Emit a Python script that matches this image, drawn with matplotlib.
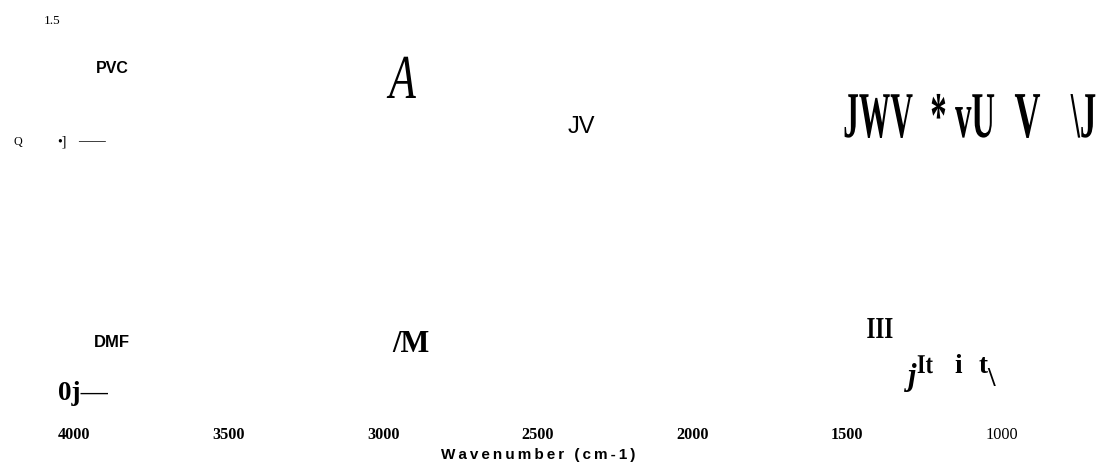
import matplotlib
matplotlib.use('Agg')
import matplotlib.pyplot as plt
from matplotlib import patheffects
from matplotlib.transforms import Affine2D

W, H = 1103, 469

tick_values = [4000, 3500, 3000, 2500, 2000, 1500, 1000]
tick_labels = ['4000', '3500', '3000', '2500', '2000', '1500', '1000']
x_title = 'Wavenumber (cm-1)'
samples = ['PVC', 'DMF']
y_labels = ['1.5', 'Q', '\u2022]', '\u2014\u2014', '0j\u2014']
# band labels, as they came out of the scanned figure
bands_top = ['A', 'JV', 'JWV', '*', 'vU', 'V', '\\J']
bands_bottom = ['/M', 'III', 'j', 'It', 'i', 't', '\\']


class Tall(patheffects.AbstractPathEffect):
    """Stretch the glyphs upward from the baseline at display y = base."""
    def __init__(self, base, sy):
        super().__init__()
        self.base, self.sy = base, sy

    def draw_path(self, renderer, gc, tpath, affine, rgbFace=None):
        st = Affine2D().translate(0, -self.base).scale(1, self.sy).translate(0, self.base)
        renderer.draw_path(gc, tpath, affine + st, rgbFace)


fig = plt.figure(figsize=(W / 100, H / 100), dpi=100)

# the wavenumber axis
ax = fig.add_axes([74 / W, (H - 420) / H, 928 / W, 410 / H], facecolor='none')
ax.set_xlim(4000, 1000)
ax.set_ylim(0, 1.5)
ax.set_xticks(tick_values, labels=tick_labels, family='Liberation Serif',
              fontweight='bold', fontsize=11.7)
ax.get_xticklabels()[-1].set_fontweight('normal')
ax.tick_params(axis='x', length=0, pad=5)
ax.set_yticks([])
for s in ax.spines.values():
    s.set_visible(False)
ax.set_xlabel('\u2009'.join(x_title), family=['Liberation Sans', 'DejaVu Sans'],
              fontweight='bold', fontsize=11, labelpad=3.5)

# everything else sits on a pixel overlay
over = fig.add_axes([0, 0, 1, 1], facecolor='none')
over.set_xlim(0, W)
over.set_ylim(H, 0)
over.axis('off')


def note(s, x, y, size, family='Liberation Serif', weight='normal', style='normal', sy=1.0, ha='center'):
    t = over.text(x, y, s, fontsize=size, family=family, weight=weight,
                  style=style, ha=ha, va='baseline')
    if sy != 1.0:
        t.set_path_effects([Tall(H - y, sy)])
    return t


note(y_labels[0], 52.5, 24, 9.6)
note(y_labels[1], 18, 145, 8.7)
note(y_labels[2], 61.5, 145, 10)
note(y_labels[3], 91.5, 145.5, 10)
note(y_labels[4], 58, 400, 19.5, weight='bold', ha='left')

note(samples[0], 112.5, 73, 11.5, family='Liberation Sans', weight='bold')
note(samples[1], 111.5, 347, 12, family='Liberation Sans', weight='bold')

note(bands_top[0], 402.5, 98, 31.5, style='italic', sy=1.43)
note(bands_top[1], 581, 133, 17, family='Liberation Sans')
note(bands_top[2], 878, 137, 22.6, weight='bold', sy=2.08)
note(bands_top[3], 938.5, 137, 23.5, weight='bold', sy=2.0)
note(bands_top[4], 975, 137, 23.5, weight='bold', sy=2.0)
note(bands_top[5], 1027.5, 137, 25.9, weight='bold', sy=1.82)
note(bands_top[6], 1083.5, 137, 23.5, weight='bold', sy=2.0)

note(bands_bottom[0], 411, 352, 22, weight='bold')
note(bands_bottom[1], 880, 338, 16.5, weight='bold', sy=1.33)
note(bands_bottom[2], 912, 385, 22, weight='bold', style='italic')
note(bands_bottom[3], 925, 373, 16, weight='bold', sy=1.22)
note(bands_bottom[4], 958.5, 373, 19.5, weight='bold')
note(bands_bottom[5], 983, 373, 19.5, weight='bold')
note(bands_bottom[6], 991.5, 386, 19.5, weight='bold')

fig.savefig('out.png', dpi=100)
